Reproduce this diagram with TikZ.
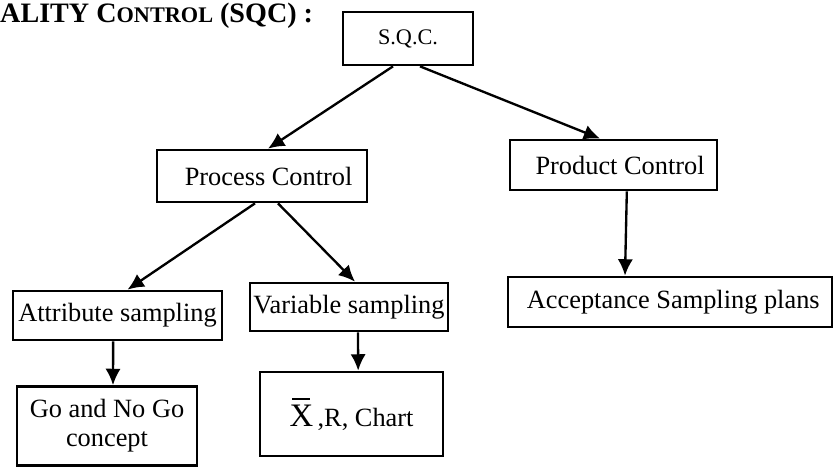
\documentclass[tikz,border=0pt]{standalone}
\usepackage{fontspec}
\setmainfont{Liberation Serif}
\usetikzlibrary{
    arrows.meta,
    positioning
}
\tikzset{
    box/.style={draw, line width=2.3pt, inner sep=0pt, align=center,
        font=\fontsize{22.5}{25}\selectfont},
    link/.style={line width=2pt, -{Latex[length=14pt,width=13pt]}}
}

\begin{document}
\begin{tikzpicture}[x=0.03cm, y=-0.03cm]
                        \useasboundingbox (0, 0) rectangle (837, 468);

                        \node[anchor=base west, inner sep=0pt, font=\fontsize{24}{28}\selectfont\bfseries] (title) at (0, 22) {ALITY C{\fontsize{19}{22}\selectfont ONTROL} (SQC) :};

                        \node[box, minimum width=3.9cm, minimum height=1.59cm, font=\fontsize{19}{22}\selectfont] (sqc) at (408, 38.5) {S.Q.C.};

                        \node[box, minimum width=6.3cm, minimum height=1.56cm] (process) at (262, 176) {~~Process Control};
                        \node[box, minimum width=6.21cm, minimum height=1.5cm] (product) at (613.5, 165) {~~Product Control};

                        \node[box, minimum width=6.27cm, minimum height=1.47cm] (attribute) at (117.5, 315.5) {Attribute sampling};
                        \node[box, minimum width=5.94cm, minimum height=1.44cm] (variable) at (349, 307) {Variable sampling};
                        \node[box, minimum width=9.72cm, minimum height=1.5cm] (acceptance) at (670, 302) {~Acceptance Sampling plans};

                        \node[box, minimum width=5.4cm, minimum height=2.37cm] (gonogo) at (107, 426) {Go and No Go\\concept};
                        \node[box, minimum width=5.49cm, minimum height=2.52cm] (xchart) at (351.5, 414) {{\fontsize{28}{28}\selectfont\rlap{\hspace{0.08em}\rule[0.8em]{0.56em}{1.6pt}}X}\,,R, Chart};

                        \draw
                        ([xshift=-0.45cm]sqc.south) edge[link] ([xshift=0.18cm]process.north)
                        ([xshift=0.36cm]sqc.south) edge[link] ([xshift=-0.4cm]product.north)
                        ([xshift=-0.21cm]process.south) edge[link] ([xshift=0.3cm]attribute.north)
                        ([xshift=0.48cm]process.south) edge[link] ([xshift=0.18cm]variable.north)
                        ([xshift=0.4cm]product.south) edge[link] ([xshift=-1.35cm]acceptance.north)
                        ([xshift=-0.13cm]attribute.south) edge[link] ([xshift=0.18cm]gonogo.north)
                        ([xshift=0.27cm]variable.south) edge[link] ([xshift=0.2cm]xchart.north);
                    \end{tikzpicture}
\end{document}
